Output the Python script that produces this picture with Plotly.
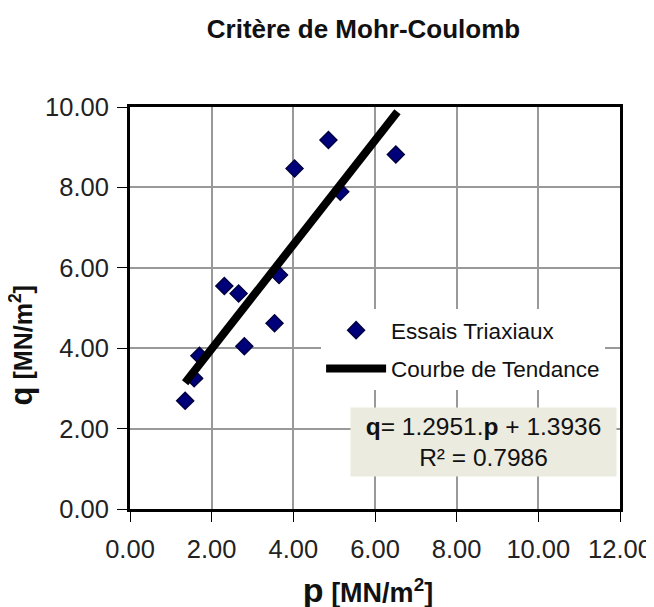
import plotly.graph_objects as go

# Essais triaxiaux (p, q) en MN/m2
p_vals = [1.35, 1.57, 1.70, 2.31, 2.66, 2.80, 3.54, 3.65, 4.03, 4.86, 5.15, 6.51]
q_vals = [2.69, 3.25, 3.81, 5.55, 5.36, 4.05, 4.62, 5.82, 8.47, 9.18, 7.89, 8.82]

# Courbe de tendance (extrémités)
trend_p = [1.35, 6.55]
trend_q = [3.14, 9.88]

tick_vals = [0, 2, 4, 6, 8, 10, 12]
equation = "<b>q</b>= 1.2951.<b>p</b> + 1.3936<br>R² = 0.7986"

FONT = "Liberation Sans, Arial, sans-serif"

fig = go.Figure()

fig.add_trace(go.Scatter(
    x=p_vals, y=q_vals, mode="markers", name="Essais Triaxiaux",
    legendgroup="a",
    marker=dict(symbol="diamond", size=13, color="#00007a",
                line=dict(color="#000040", width=1.5)),
))
fig.add_trace(go.Scatter(
    x=trend_p, y=trend_q, mode="lines", name="Courbe de Tendance",
    legendgroup="b",
    line=dict(color="black", width=8),
))

axis_common = dict(
    showgrid=True, gridcolor="#999999", gridwidth=1.5,
    showline=True, linecolor="black", linewidth=3, mirror=True,
    ticks="outside", ticklen=10, tickcolor="black", tickwidth=1,
    tickformat=".2f", zeroline=False, automargin=False,
    tickfont=dict(family=FONT, size=25.5, color="#222"),
)

fig.update_xaxes(range=[0, 12], tickvals=tick_vals, ticklabelstandoff=5, **axis_common)
fig.update_yaxes(range=[0, 10], dtick=2, ticklabelstandoff=3, **axis_common)

# titres des axes
fig.add_annotation(
    xref="paper", yref="paper", x=0.486, y=-0.2015, xanchor="center", yanchor="middle",
    text="<b><span style='font-size:34px'>p</span> [MN/m<sup>2</sup>]</b>",
    showarrow=False, font=dict(family=FONT, size=27, color="#111"),
    width=170, height=44,
)
fig.add_annotation(
    xref="paper", yref="paper", x=-0.222, y=0.408, xanchor="center", yanchor="middle",
    text="<b><span style='font-size:31px'>q</span> [MN/m<sup>2</sup>]</b>",
    textangle=-90, showarrow=False, font=dict(family=FONT, size=25, color="#111"),
    width=150, height=40,
)

fig.add_annotation(
    xref="paper", yref="paper", x=0.9939, y=0.2537, xanchor="right", yanchor="top",
    text=equation, showarrow=False, align="center",
    font=dict(family=FONT, size=24.5, color="#111"),
    bgcolor="#ecebe0", borderpad=4, width=257, height=60,
)

fig.update_layout(
    width=646, height=599,
    margin=dict(l=122, r=34, t=99, b=98),
    paper_bgcolor="white", plot_bgcolor="white",
    title=dict(text="<b>Critère de Mohr-Coulomb</b>", x=0.5503, xanchor="center",
               y=0.965, yanchor="middle", font=dict(family=FONT, size=26, color="#111")),
    legend=dict(x=0.39, y=0.4975, xanchor="left", yanchor="top",
                bgcolor="white", borderwidth=0, itemwidth=60,
                font=dict(family=FONT, size=22.5, color="#111"),
                tracegroupgap=6),
)

fig.write_html("out.html")
